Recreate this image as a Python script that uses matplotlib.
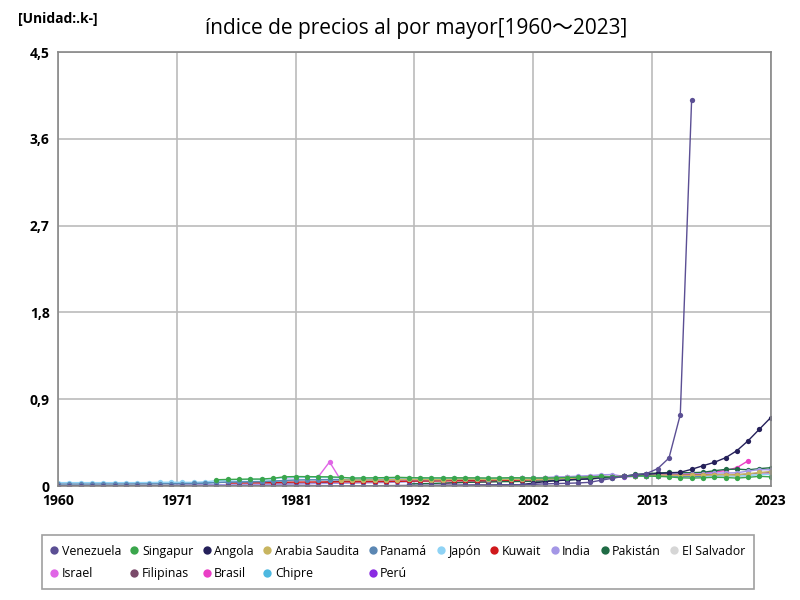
import numpy as np
import matplotlib
matplotlib.use("Agg")
import matplotlib.pyplot as plt

plt.rcParams['font.family'] = ['Open Sans', 'DejaVu Sans']

# Años del eje x
years = list(range(1960, 2024))

# Series: (primer año, valores en miles)
venezuela_from = 1960
venezuela = [0.0003, 0.0003, 0.0003, 0.0003, 0.0003, 0.0003, 0.0003, 0.0003, 0.0003, 0.0003,
             0.0004, 0.0004, 0.0004, 0.0005, 0.0006, 0.0007, 0.0008, 0.0008, 0.0009, 0.001,
             0.0012, 0.0014, 0.0015, 0.0016, 0.0018, 0.002, 0.0022, 0.0026, 0.003, 0.004,
             0.005, 0.006, 0.007, 0.008, 0.009, 0.01, 0.011, 0.012, 0.012, 0.013,
             0.013, 0.014, 0.017, 0.022, 0.025, 0.028, 0.032, 0.038, 0.06, 0.08,
             0.1, 0.117, 0.128, 0.18, 0.29, 0.74, 4.0]

singapur_from = 1974
singapur = [0.065, 0.068, 0.07, 0.072, 0.072, 0.08, 0.095, 0.098, 0.097, 0.096,
            0.095, 0.09, 0.082, 0.084, 0.085, 0.087, 0.09, 0.087, 0.085, 0.084,
            0.084, 0.085, 0.085, 0.084, 0.082, 0.083, 0.086, 0.085, 0.083, 0.083,
            0.084, 0.088, 0.092, 0.093, 0.1, 0.092, 0.1, 0.104, 0.104, 0.1,
            0.095, 0.085, 0.082, 0.085, 0.09, 0.088, 0.082, 0.09, 0.1, 0.095]

angola_from = 1991
angola = [0.00001, 0.00005, 0.0003, 0.001, 0.002, 0.003, 0.004, 0.005, 0.006,
          0.008, 0.015, 0.03, 0.045, 0.055, 0.062, 0.07, 0.075, 0.085, 0.092,
          0.1, 0.11, 0.12, 0.13, 0.135, 0.142, 0.173, 0.21, 0.245, 0.293,
          0.366, 0.47, 0.59, 0.71]

arabia_from = 1985
arabia = [0.065, 0.06, 0.062, 0.063, 0.065, 0.067, 0.068, 0.068, 0.067, 0.066,
          0.07, 0.072, 0.07, 0.068, 0.068, 0.069, 0.069, 0.069, 0.07, 0.075,
          0.078, 0.082, 0.088, 0.095, 0.092, 0.1, 0.108, 0.112, 0.113, 0.112,
          0.11, 0.11, 0.112, 0.118, 0.118, 0.115, 0.128, 0.14, 0.15, 0.165]

panama_from = 1960
panama = [0.02, 0.02, 0.02, 0.02, 0.021, 0.021, 0.021, 0.022, 0.022, 0.023,
          0.024, 0.025, 0.026, 0.029, 0.036, 0.04, 0.041, 0.043, 0.045, 0.05,
          0.057, 0.062, 0.064, 0.065, 0.066, 0.066, 0.062, 0.063, 0.064, 0.066,
          0.068, 0.068, 0.068, 0.067, 0.067, 0.068, 0.069, 0.068, 0.066, 0.067,
          0.071, 0.069, 0.068, 0.069, 0.072, 0.076, 0.08, 0.085, 0.095, 0.09,
          0.1, 0.106, 0.108, 0.107, 0.106, 0.1, 0.099, 0.101]

japon_from = 1960
japon = [0.035, 0.035, 0.035, 0.035, 0.035, 0.035, 0.035, 0.035, 0.036, 0.038,
         0.039, 0.038, 0.038, 0.043, 0.055, 0.06, 0.065, 0.068, 0.068, 0.075,
         0.088, 0.09, 0.09, 0.089, 0.088, 0.087, 0.083, 0.08, 0.079, 0.08,
         0.082, 0.083, 0.082, 0.08, 0.079, 0.078, 0.077, 0.078, 0.077, 0.076,
         0.076, 0.075, 0.074, 0.074, 0.075, 0.077, 0.079, 0.081, 0.085, 0.09,
         0.1, 0.101, 0.1, 0.101, 0.104, 0.102, 0.1, 0.101, 0.104, 0.105,
         0.104, 0.109, 0.118, 0.12]

kuwait_from = 1975
kuwait = [0.03, 0.031, 0.032, 0.033, 0.035, 0.038, 0.04, 0.041, 0.042, 0.042,
          0.043, 0.043, 0.044, 0.045, 0.046, 0.048, 0.05, 0.052, 0.052, 0.053,
          0.054, 0.055, 0.056, 0.057, 0.058, 0.06, 0.062, 0.064, 0.068, 0.072,
          0.078, 0.084, 0.09, 0.098, 0.096, 0.1, 0.104, 0.107, 0.108, 0.11,
          0.112, 0.113, 0.114, 0.116, 0.117, 0.118]

india_from = 1970
india = [0.008, 0.009, 0.01, 0.011, 0.013, 0.014, 0.014, 0.015, 0.015, 0.017,
         0.02, 0.022, 0.023, 0.025, 0.027, 0.028, 0.03, 0.032, 0.034, 0.036,
         0.039, 0.044, 0.048, 0.052, 0.057, 0.062, 0.064, 0.067, 0.071, 0.075,
         0.078, 0.079, 0.082, 0.087, 0.093, 0.097, 0.103, 0.108, 0.116, 0.119,
         0.1, 0.109, 0.117, 0.125, 0.126, 0.123, 0.124, 0.128, 0.134, 0.136,
         0.137, 0.155, 0.17, 0.168]

pakistan_from = 1991
pakistan = [0.022, 0.024, 0.026, 0.03, 0.034, 0.037, 0.04, 0.042, 0.045,
            0.046, 0.047, 0.049, 0.052, 0.058, 0.062, 0.068, 0.073, 0.082, 0.087,
            0.1, 0.12, 0.127, 0.135, 0.14, 0.138, 0.138, 0.142, 0.158, 0.172,
            0.175, 0.168, 0.18, 0.19]

elsalvador_from = 1980
elsalvador = [0.05, 0.055, 0.058, 0.061, 0.064, 0.068, 0.07, 0.072, 0.074, 0.076,
              0.078, 0.079, 0.08, 0.081, 0.082, 0.084, 0.085, 0.085, 0.084, 0.083,
              0.085, 0.086, 0.086, 0.088, 0.09, 0.094, 0.097, 0.1, 0.105, 0.098,
              0.1, 0.105, 0.107, 0.106, 0.105, 0.1, 0.099, 0.102, 0.104, 0.103,
              0.102, 0.11, 0.122, 0.122]

israel_from = 1980
israel = [0.085, 0.088, 0.09, 0.095, 0.25, 0.06, 0.058, 0.058, 0.059, 0.06,
          0.061, 0.062, 0.063, 0.064, 0.065, 0.066, 0.067, 0.068, 0.069, 0.07,
          0.071, 0.072, 0.074, 0.076, 0.078, 0.08, 0.083, 0.086, 0.094, 0.094,
          0.1, 0.106, 0.108, 0.107, 0.105, 0.1, 0.098, 0.1, 0.103, 0.104,
          0.103, 0.11, 0.124, 0.124]

filipinas_from = 1960
filipinas = [0.004, 0.004, 0.004, 0.005, 0.005, 0.005, 0.005, 0.006, 0.006, 0.006,
             0.007, 0.008, 0.009, 0.01, 0.013, 0.014, 0.015, 0.016, 0.017, 0.019,
             0.022, 0.024, 0.026, 0.029, 0.043, 0.05, 0.05, 0.052, 0.055, 0.058,
             0.062, 0.065, 0.066, 0.067, 0.068, 0.069, 0.07, 0.071, 0.074, 0.075,
             0.077, 0.079, 0.081, 0.083, 0.087, 0.092, 0.094, 0.096, 0.1, 0.097,
             0.1, 0.104, 0.106, 0.107, 0.109, 0.108, 0.108, 0.112, 0.118, 0.12,
             0.118, 0.122, 0.13, 0.132]

brasil_from = 1994
brasil = [0.02, 0.035, 0.039, 0.042, 0.043, 0.05, 0.058, 0.064, 0.073, 0.08,
          0.085, 0.084, 0.085, 0.088, 0.097, 0.095, 0.1, 0.105, 0.11, 0.116,
          0.12, 0.125, 0.128, 0.132, 0.145, 0.16, 0.19, 0.262]

chipre_from = 1970
chipre = [0.028, 0.029, 0.03, 0.032, 0.037, 0.04, 0.042, 0.045, 0.047, 0.05,
          0.055, 0.058, 0.06, 0.062, 0.064, 0.065, 0.065, 0.066, 0.067, 0.068,
          0.07, 0.072, 0.074, 0.075, 0.076, 0.077, 0.078, 0.079, 0.08, 0.081,
          0.082, 0.083, 0.084, 0.085, 0.088, 0.09, 0.093, 0.096, 0.1, 0.097,
          0.1, 0.104, 0.107, 0.108, 0.108, 0.104, 0.101, 0.104, 0.107, 0.108,
          0.106, 0.112, 0.125, 0.124]

peru_from = 1992
peru = [0.055, 0.06, 0.064, 0.067, 0.07, 0.073, 0.075, 0.077, 0.078,
        0.079, 0.078, 0.079, 0.082, 0.085, 0.086, 0.088, 0.094, 0.097, 0.095,
        0.1, 0.106, 0.107, 0.108, 0.11, 0.111, 0.113, 0.114, 0.116, 0.117,
        0.118, 0.126, 0.14, 0.138]

series = [
    ("Venezuela", venezuela_from, venezuela, "#5b4f94"),
    ("Singapur", singapur_from, singapur, "#3aa64c"),
    ("Angola", angola_from, angola, "#25205a"),
    ("Arabia Saudita", arabia_from, arabia, "#c8b560"),
    ("Panamá", panama_from, panama, "#5b87b3"),
    ("Japón", japon_from, japon, "#8fd3f5"),
    ("Kuwait", kuwait_from, kuwait, "#d0181c"),
    ("India", india_from, india, "#a497e6"),
    ("Pakistán", pakistan_from, pakistan, "#1f6b45"),
    ("El Salvador", elsalvador_from, elsalvador, "#d6d6d6"),
    ("Israel", israel_from, israel, "#e066e6"),
    ("Filipinas", filipinas_from, filipinas, "#7a4a6a"),
    ("Brasil", brasil_from, brasil, "#ea3fc6"),
    ("Chipre", chipre_from, chipre, "#4db8e0"),
    ("Perú", peru_from, peru, "#8a2be2"),
]

x_ticks = [1960, 1970.5, 1981, 1991.5, 2002, 2012.5, 2023]
x_labels = ["1960", "1971", "1981", "1992", "2002", "2013", "2023"]
y_ticks = [0, 0.9, 1.8, 2.7, 3.6, 4.5]
y_labels = ["0", "0,9", "1,8", "2,7", "3,6", "4,5"]

fig = plt.figure(figsize=(8, 6), dpi=100)
ax = fig.add_axes([0.0725, 0.19, 0.891, 0.7233])

# dibujar en orden inverso para que Venezuela quede encima
handles = {}
for name, start, vals, color in reversed(series):
    xs = list(range(start, start + len(vals)))
    line, = ax.plot(xs, vals, color=color, lw=1, marker='o', ms=3.8,
                    markeredgewidth=0, label=name)
    handles[name] = line

ax.set_xlim(1960, 2023)
ax.set_ylim(0, 4.5)
ax.set_xticks(x_ticks)
ax.set_xticklabels(x_labels, fontweight='bold', fontsize=10)
ax.set_yticks(y_ticks)
ax.set_yticklabels(y_labels, fontweight='bold', fontsize=10)
ax.tick_params(length=0, pad=6)
ax.grid(True, color='#bbbbbb', lw=1.2)
ax.set_axisbelow(True)
for s in ax.spines.values():
    s.set_color('#888888')
    s.set_linewidth(1.2)

fig.text(0.52, 0.953, "índice de precios al por mayor[1960～2023]", ha='center',
         va='center', fontsize=15, family=['Open Sans', 'Noto Sans CJK JP'])
fig.text(0.022, 0.968, "[Unidad:.k-]", ha='left', va='center', fontsize=10,
         fontweight='bold')

# leyenda con filas: 10 en la primera, 5 en la segunda
names = [s[0] for s in series]
order = [0, 10, 1, 11, 2, 12, 3, 13, 4, 14, 5, 6, 7, 8, 9]
leg = fig.legend([handles[names[i]] for i in order], [names[i] for i in order],
                 ncol=10, loc='center', bbox_to_anchor=(0.4975, 0.063),
                 fontsize=8.9, frameon=True, fancybox=False, handlelength=0.5,
                 handletextpad=0.35, columnspacing=0.85, borderpad=0.75,
                 labelspacing=0.75, borderaxespad=0)
leg.get_frame().set_edgecolor('#888888')
leg.get_frame().set_linewidth(1.2)
for h in leg.legend_handles:
    h.set_linestyle('none')
    h.set_markersize(6)

fig.savefig("out.png", dpi=100)
